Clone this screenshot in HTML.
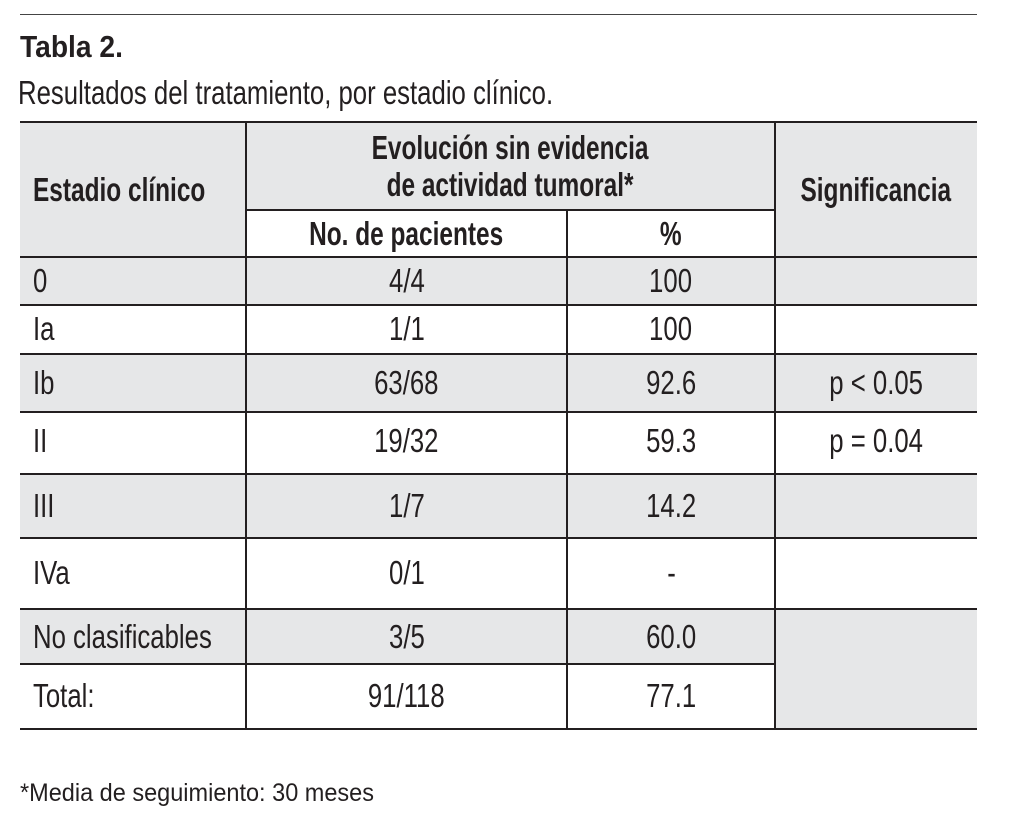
<!DOCTYPE html>
<html><head><meta charset="utf-8"><style>
body{margin:0;width:1020px;height:820px;background:#fff;position:relative;overflow:hidden;font-family:"Liberation Sans",sans-serif;color:#231f20}
.a{position:absolute;white-space:nowrap}
.s{display:inline-block;transform:scaleX(.78);transform-origin:left center;white-space:nowrap}
.c{position:absolute;display:flex;align-items:center;justify-content:center;font-size:33px;line-height:1.12;text-align:center;white-space:nowrap}
.c>span{display:inline-block;transform:scaleX(.78);transform-origin:center;white-space:nowrap}
.l{justify-content:flex-start;padding-left:13px;box-sizing:border-box}
.l>span{transform-origin:left center}
.b{font-weight:bold}
.b>span{transform:scaleX(.74)}
.g{background:#e6e7e8}
.h{position:absolute;height:2px;background:#231f20}
.v{position:absolute;width:2px;background:#231f20}
</style></head><body>
<div class="a" style="left:20px;top:14px;width:957px;height:1px;background:#444"></div>
<div class="a" style="left:20px;top:29px;font-size:31px;font-weight:bold"><span class="s" style="transform:scaleX(.91)">Tabla 2.</span></div>
<div class="a" style="left:18px;top:74px;font-size:33px"><span class="s">Resultados del tratamiento, por estadio clínico.</span></div>

<div class="a g" style="left:20px;top:122px;width:957px;height:136px"></div>
<div class="a" style="left:246px;top:210px;width:529px;height:48px;background:#fff"></div>
<div class="a g" style="left:20px;top:258px;width:957px;height:46px"></div>
<div class="a g" style="left:20px;top:354px;width:957px;height:58px"></div>
<div class="a g" style="left:20px;top:474px;width:957px;height:64px"></div>
<div class="a g" style="left:20px;top:609px;width:957px;height:56px"></div>
<div class="a g" style="left:775px;top:609px;width:202px;height:120px"></div>

<div class="h" style="left:20px;top:121px;width:957px"></div>
<div class="h" style="left:246px;top:209px;width:529px"></div>
<div class="h" style="left:20px;top:256px;width:957px"></div>
<div class="h" style="left:20px;top:304px;width:957px"></div>
<div class="h" style="left:20px;top:353px;width:957px"></div>
<div class="h" style="left:20px;top:411px;width:957px"></div>
<div class="h" style="left:20px;top:473px;width:957px"></div>
<div class="h" style="left:20px;top:537px;width:957px"></div>
<div class="h" style="left:20px;top:608px;width:957px"></div>
<div class="h" style="left:20px;top:663px;width:755px"></div>
<div class="h" style="left:20px;top:728px;width:957px"></div>
<div class="v" style="left:245px;top:122px;height:607px"></div>
<div class="v" style="left:566px;top:210px;height:519px"></div>
<div class="v" style="left:774px;top:122px;height:607px"></div>

<div class="c l b" style="left:20px;top:122px;width:226px;height:136px"><span>Estadio clínico</span></div>
<div class="c b" style="left:246px;top:124px;width:529px;height:86px"><span>Evolución sin evidencia<br>de actividad tumoral*</span></div>
<div class="c b" style="left:246px;top:211px;width:321px;height:46px"><span>No. de pacientes</span></div>
<div class="c b" style="left:567px;top:211px;width:208px;height:46px"><span>%</span></div>
<div class="c b" style="left:775px;top:122px;width:202px;height:136px"><span>Significancia</span></div>

<div class="c l" style="left:20px;top:258px;width:226px;height:46px"><span>0</span></div>
<div class="c" style="left:246px;top:258px;width:321px;height:46px"><span>4/4</span></div>
<div class="c" style="left:567px;top:258px;width:208px;height:46px"><span>100</span></div>

<div class="c l" style="left:20px;top:305px;width:226px;height:48px"><span>Ia</span></div>
<div class="c" style="left:246px;top:305px;width:321px;height:48px"><span>1/1</span></div>
<div class="c" style="left:567px;top:305px;width:208px;height:48px"><span>100</span></div>

<div class="c l" style="left:20px;top:355px;width:226px;height:57px"><span>Ib</span></div>
<div class="c" style="left:246px;top:355px;width:321px;height:57px"><span>63/68</span></div>
<div class="c" style="left:567px;top:355px;width:208px;height:57px"><span>92.6</span></div>
<div class="c" style="left:775px;top:355px;width:202px;height:57px"><span>p &lt; 0.05</span></div>

<div class="c l" style="left:20px;top:413px;width:226px;height:60px;align-items:flex-start;padding-top:10px"><span>II</span></div>
<div class="c" style="left:246px;top:413px;width:321px;height:60px;align-items:flex-start;padding-top:10px"><span>19/32</span></div>
<div class="c" style="left:567px;top:413px;width:208px;height:60px;align-items:flex-start;padding-top:10px"><span>59.3</span></div>
<div class="c" style="left:775px;top:413px;width:202px;height:60px;align-items:flex-start;padding-top:10px"><span>p = 0.04</span></div>

<div class="c l" style="left:20px;top:475px;width:226px;height:62px"><span>III</span></div>
<div class="c" style="left:246px;top:475px;width:321px;height:62px"><span>1/7</span></div>
<div class="c" style="left:567px;top:475px;width:208px;height:62px"><span>14.2</span></div>

<div class="c l" style="left:20px;top:539px;width:226px;height:69px"><span>IVa</span></div>
<div class="c" style="left:246px;top:539px;width:321px;height:69px"><span>0/1</span></div>
<div class="c" style="left:567px;top:539px;width:208px;height:69px"><span>-</span></div>

<div class="c l" style="left:20px;top:610px;width:226px;height:54px"><span>No clasificables</span></div>
<div class="c" style="left:246px;top:610px;width:321px;height:54px"><span>3/5</span></div>
<div class="c" style="left:567px;top:610px;width:208px;height:54px"><span>60.0</span></div>

<div class="c l" style="left:20px;top:665px;width:226px;height:63px"><span>Total:</span></div>
<div class="c" style="left:246px;top:665px;width:321px;height:63px"><span>91/118</span></div>
<div class="c" style="left:567px;top:665px;width:208px;height:63px"><span>77.1</span></div>

<div class="a" style="left:20px;top:779px;font-size:25px"><span class="s" style="transform:scaleX(.94)">*Media de seguimiento: 30 meses</span></div>
</body></html>
